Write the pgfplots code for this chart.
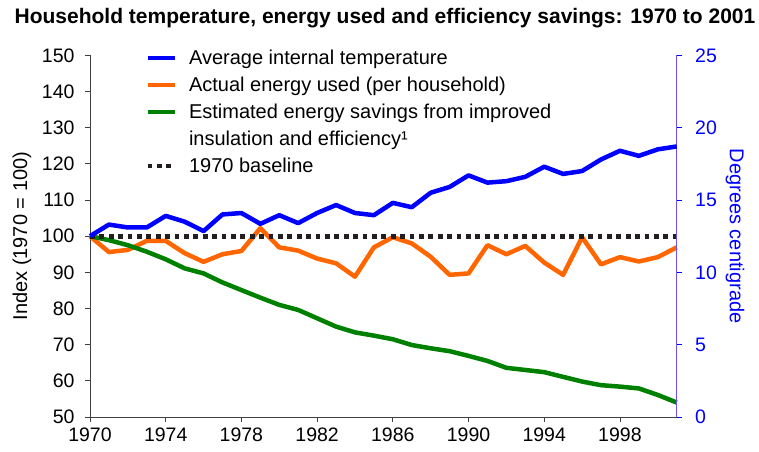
\documentclass[border=0pt]{standalone}
\usepackage{pgfplots}
\pgfplotsset{compat=1.18}
\usepackage{fontspec}
\setmainfont{Liberation Sans}
\definecolor{lblue}{HTML}{0000FF}
\definecolor{lorange}{HTML}{FF6600}
\definecolor{lgreen}{HTML}{008000}
\definecolor{lblack}{HTML}{231F20}
\definecolor{raxis}{HTML}{6A50FF}
\begin{document}
\begin{tikzpicture}
\path[use as bounding box] (-90pt,-34pt) rectangle (669pt,417pt);
\node[font=\fontsize{21}{24}\selectfont\bfseries] at (295pt,399pt) {Household temperature, energy used and efficiency savings: 1970 to 2001};
\begin{axis}[
  at={(0pt,0pt)}, anchor=south west,
  width=586.7pt, height=361.7pt, scale only axis,
  xmin=1970, xmax=2001, ymin=50, ymax=150,
  axis x line*=bottom, axis y line*=left,
  axis line style={draw=black!75, line width=0.8pt},
  xtick={1970,1974,...,1998},
  ytick={50,60,...,150},
  minor tick num=0,
  tick align=outside, major tick length=5pt,
  tick style={draw=black!75, line width=0.8pt},
  /pgf/number format/assume math mode=true,
  /pgf/number format/set thousands separator={},
  ticklabel style={font=\fontsize{19.5}{22}\selectfont},
  xticklabel style={yshift=-2pt},
  yticklabel style={xshift=-7pt},
  ylabel={Index (1970 = 100)},
  every axis y label/.style={at={(axis description cs:-0.1159,0.5)}, rotate=90, anchor=center, font=\fontsize{20}{24}\selectfont},
  clip=false,
  legend style={at={(axis description cs:0.094,1.015)}, anchor=north west, draw=none, fill=none,
    font=\fontsize{20}{24}\selectfont, inner sep=0pt, row sep=11pt, column sep=12pt,
    nodes={inner xsep=0pt, inner ysep=0pt}},
  legend cell align=left,
  legend image code/.code={\draw[#1] (0pt,0pt) -- (27pt,0pt);},
]
\addlegendimage{lblue, line width=4.5pt}
\addlegendentry{Average internal temperature}
\addplot[lorange, line width=4.5pt, line join=round] coordinates {
(1970,100) (1971,95.6) (1972,96.2) (1973,98.7) (1974,98.7) (1975,95.3) (1976,92.9) (1977,95.0)
(1978,95.9) (1979,102.2) (1980,96.9) (1981,96.0) (1982,93.8) (1983,92.5) (1984,88.8) (1985,96.9)
(1986,99.7) (1987,98.0) (1988,94.3) (1989,89.3) (1990,89.7) (1991,97.5) (1992,95.0) (1993,97.3)
(1994,92.7) (1995,89.3) (1996,99.7) (1997,92.2) (1998,94.2) (1999,93.0) (2000,94.2) (2001,96.9)};
\addlegendentry{Actual energy used (per household)}
\addplot[lgreen, line width=4.5pt, line join=round] coordinates {
(1970,100) (1971,98.9) (1972,97.5) (1973,95.7) (1974,93.6) (1975,91.1) (1976,89.7) (1977,87.2)
(1978,85.1) (1979,83.0) (1980,81.0) (1981,79.6) (1982,77.3) (1983,75.0) (1984,73.4) (1985,72.5)
(1986,71.5) (1987,69.9) (1988,69.0) (1989,68.2) (1990,66.9) (1991,65.5) (1992,63.6) (1993,63.0)
(1994,62.4) (1995,61.1) (1996,59.8) (1997,58.8) (1998,58.4) (1999,57.9) (2000,56.1) (2001,54.0)};
\addlegendentry{Estimated energy savings from improved}
\addlegendimage{empty legend}
\addlegendentry{insulation and efficiency¹}
\addplot[lblack, line width=4.7pt, dash pattern=on 4.7pt off 4.7pt] coordinates {(1970,100) (2001,100)};
\addlegendentry{1970 baseline}
\end{axis}
\begin{axis}[
  at={(0pt,0pt)}, anchor=south west,
  width=586.7pt, height=361.7pt, scale only axis,
  xmin=1970, xmax=2001, ymin=0, ymax=25,
  axis x line=none, axis y line*=right,
  axis line style={draw=raxis, line width=0.8pt},
  ytick={0,5,...,25},
  tick align=outside, major tick length=5pt,
  tick style={draw=lblue, line width=0.8pt},
  /pgf/number format/assume math mode=true,
  yticklabel style={font=\fontsize{19.5}{22}\selectfont, text=lblue, xshift=10pt},
  ylabel={Degrees centigrade},
  every axis y label/.style={at={(axis description cs:1.0994,0.5)}, rotate=-90, anchor=center, font=\fontsize{20}{24}\selectfont, text=lblue},
  clip=false,
]
\addplot[lblue, line width=4.5pt, line join=round] coordinates {
(1970,12.5) (1971,13.3) (1972,13.1) (1973,13.1) (1974,13.9) (1975,13.5) (1976,12.85) (1977,14.0)
(1978,14.1) (1979,13.35) (1980,13.95) (1981,13.4) (1982,14.1) (1983,14.65) (1984,14.1) (1985,13.95)
(1986,14.8) (1987,14.5) (1988,15.5) (1989,15.9) (1990,16.7) (1991,16.2) (1992,16.3) (1993,16.6)
(1994,17.3) (1995,16.8) (1996,17.0) (1997,17.8) (1998,18.4) (1999,18.05) (2000,18.5) (2001,18.7)};
\end{axis}
\end{tikzpicture}
\end{document}
